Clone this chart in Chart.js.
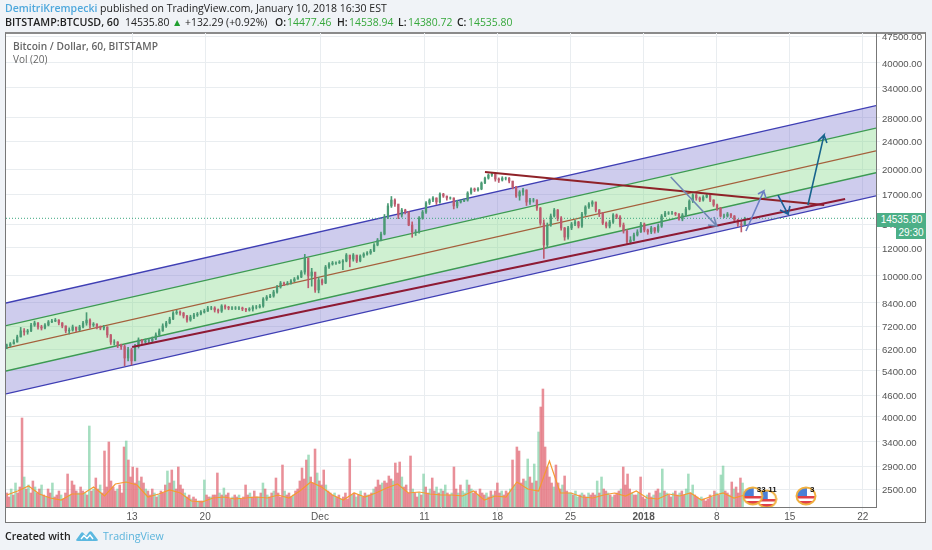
<!DOCTYPE html>
<html lang="en">
<head>
<meta charset="UTF-8">
<title>BTCUSD channel</title>
<script src="https://cdn.jsdelivr.net/npm/chart.js"></script>
<style>
    html, body { margin: 0; padding: 0; width: 932px; height: 550px; background: #f0f3f7; overflow: hidden; }
    body { font-family: "Open Sans", sans-serif; color: #222; }
    .txt { position: absolute; white-space: nowrap; line-height: 12px; }
    #frame { position: absolute; left: 5px; top: 32px; width: 919px; height: 488px; background: #fff; border: 1px solid #777; border-top: 2px solid #8b8b8b; }
    #chart { position: absolute; left: 0; top: 0; }
    .tag { position: absolute; color: #fff; background: #4caf87; font: 10px "Liberation Sans", sans-serif; text-align: center; }
    .green { color: #36a83c; }
</style>
</head>
<body>
<div id="frame"></div>
<canvas id="chart" width="932" height="550"></canvas>

<div class="txt" style="left:5px;top:2px;font-size:10.5px"><span style="color:#4fa8dc;font-weight:600">DemitriKrempecki</span> published on TradingView.com, January 10, 2018 16:30 EST</div>
<div class="txt" style="left:5px;top:16px;font-size:10.7px;font-weight:600">BITSTAMP:BTCUSD, 60</div>
<div class="txt" style="left:125px;top:16px;font-size:10.4px">14535.80 <span style="color:#1e9e2e">▲</span> +132.29 (+0.92%)</div>
<div class="txt" style="left:275px;top:16px;font-size:10.4px;font-weight:600">O:</div>
<div class="txt green" style="left:287px;top:16px;font-size:10.4px">14477.46</div>
<div class="txt" style="left:337px;top:16px;font-size:10.4px;font-weight:600">H:</div>
<div class="txt green" style="left:349px;top:16px;font-size:10.4px">14538.94</div>
<div class="txt" style="left:398px;top:16px;font-size:10.4px;font-weight:600">L:</div>
<div class="txt green" style="left:408px;top:16px;font-size:10.4px">14380.72</div>
<div class="txt" style="left:457px;top:16px;font-size:10.4px;font-weight:600">C:</div>
<div class="txt green" style="left:468px;top:16px;font-size:10.4px">14535.80</div>

<div class="txt" style="left:13px;top:40px;font-size:10.2px;font-weight:600;color:#666">Bitcoin / Dollar, 60, BITSTAMP</div>
<div class="txt" style="left:13px;top:53px;font-size:10px;color:#666">Vol (20)</div>

<div class="tag" style="left:877px;top:213px;width:49px;height:14px;line-height:14px">14535.80</div>
<div class="tag" style="left:896px;top:227px;width:30px;height:12px;line-height:12px">29:30</div>

<div class="txt" style="left:5px;top:530px;font-size:10.6px;font-weight:600">Created with</div>
<svg style="position:absolute;left:76px;top:530px" width="22" height="12" viewBox="0 0 22 12">
    <path d="M0 10 L5 3 Q6 1.5 7.5 3 L10 6 L13 2 Q14.5 0.5 16 2 L22 10 Q22 11 20 11 L2 11 Q0 11 0 10 Z" fill="#5bb8e0"/>
    <path d="M5 9 L8 5.5 L11 8.5 L14 5 L17 9" fill="none" stroke="#fff" stroke-width="1.4"/>
</svg>
<div class="txt" style="left:103px;top:530px;font-size:10.6px;color:#5bb4dc">TradingView</div>

<script>
// hourly-ish candles, 8h apart
const firstDay = -30.0, lastDay = 40.69;   // days counted from Dec 1
const xMin = -30.08, xMax = 53.26;

const priceClose = [
    6340,6420,6500,6720,6990,6940,6990,7260,7360,7170,
    7120,7260,7410,7450,7500,7360,7220,6990,7030,7170,
    7030,7170,7360,7500,7260,7310,7170,7120,7170,6810,
    6500,6500,6380,6310,5860,6180,5750,6310,6590,6500,
    6550,6550,6630,6810,6990,7220,7360,7550,7850,7900,
    7850,7700,7500,7650,7750,7800,7900,7950,8110,8110,
    8010,7950,8220,8160,8110,8110,8110,8110,8060,8010,
    8060,8160,8160,8220,8600,8710,8770,9000,9300,9540,
    9480,9540,9670,9790,9920,10250,11230,9990,10250,9120,
    9730,9540,10590,10800,10870,10870,10940,11010,11450,11150,
    11450,11010,11370,11520,11600,11750,12220,12620,13120,14660,
    15750,16370,15950,14850,15340,15140,13910,13300,13300,14560,
    15140,16060,16370,16590,16160,17020,16800,16590,16590,15750,
    16160,16260,16370,17130,17590,17470,17590,18290,18880,19260,
    19390,18760,18640,18880,18880,18520,17820,16800,17250,17470,
    16160,16370,16370,15540,14090,12220,13910,14750,15340,14560,
    13650,12870,13650,14000,14190,13820,14950,15650,15950,16160,
    15340,15040,14090,13820,14190,14850,14660,13910,13380,12460,
    12620,13040,13300,14000,13470,13300,13650,13380,13820,14750,
    15040,15040,15040,14950,14470,14850,15440,16260,16910,16590,
    16370,16690,16910,16370,15850,15540,14750,14750,14950,14750,
    14370,14000,13910,14536
];
const priceHigh = [
    6420,6480,6600,6800,7150,7100,7060,7340,7450,7380,
    7250,7330,7480,7530,7580,7520,7380,7220,7130,7260,
    7150,7250,7440,7870,7560,7380,7320,7220,7250,7180,
    6830,6600,6520,6420,6380,6280,6250,6400,6680,6620,
    6630,6640,6720,6900,7080,7320,7440,7640,7920,7990,
    7960,7880,7730,7740,7840,7880,7980,8050,8200,8200,
    8180,8060,8290,8280,8200,8190,8190,8190,8160,8100,
    8130,8240,8250,8300,8680,8800,8860,9100,9400,9640,
    9600,9640,9760,9890,10020,10350,11500,11000,10500,10200,
    9900,9800,10700,10900,10980,10960,11040,11120,11560,11420,
    11560,11400,11460,11620,11700,11880,12330,12750,13300,14900,
    16000,16750,16500,15900,15500,15420,15200,14200,13500,14700,
    15300,16200,16500,16750,16600,17150,17100,16800,16700,16600,
    16350,16400,16500,17280,17720,17700,17750,18420,19000,19400,
    19600,19400,18900,19050,19000,18950,18500,17900,17400,17650,
    17500,16550,16550,16400,15600,14400,14100,14950,15500,15400,
    14700,13700,13800,14150,14350,14250,15100,15780,16100,16300,
    16150,15400,15100,14200,14350,15000,14950,14800,14100,13500,
    12900,13200,13500,14150,14100,13550,13800,13700,14000,14900,
    15200,15180,15200,15120,15000,15000,15600,16400,17050,17050,
    16700,16850,17050,16950,16400,15950,15600,14950,15100,15000,
    14800,14450,14300,14639
];
const priceLow = [
    6230,6300,6420,6500,6720,6800,6840,6950,7200,7070,
    7030,7080,7220,7370,7420,7270,7130,6900,6850,6980,
    6950,6990,7130,7250,7120,7190,7080,7040,7030,6700,
    6400,6380,6270,6200,5570,5750,5600,5800,6250,6400,
    6450,6450,6520,6600,6760,6970,7150,7320,7520,7780,
    7740,7600,7400,7440,7570,7680,7750,7850,7930,8020,
    7900,7850,7880,8050,8020,8030,8030,8030,7970,7920,
    7950,7950,8060,8110,8150,8520,8680,8700,8940,9230,
    9380,9420,9470,9620,9780,9880,10100,9250,9350,8980,
    8950,9430,9500,10500,10720,10770,10840,10400,10950,10600,
    11000,10900,10950,11270,11430,11500,11700,12150,12550,13050,
    14500,15600,15700,14500,14650,14950,13850,12850,13000,13200,
    14450,15000,15900,16200,15900,16050,16650,16350,16450,15450,
    15550,16050,16200,16250,17000,17300,17350,17500,18200,18750,
    19100,18500,18350,18520,18650,18300,17600,16650,16350,16900,
    15800,15900,16150,15300,13900,11200,12000,13800,14650,14300,
    13450,12600,12700,13500,13850,13650,13700,14800,15500,15700,
    15150,14700,13950,13650,13650,14050,14500,13750,13200,12250,
    12300,12550,12950,13250,13300,13100,13150,13200,13250,13700,
    14700,14900,14900,14800,14350,14300,14750,15350,16100,16350,
    16200,16250,16600,16200,15700,15300,14650,14600,14650,14600,
    14250,13780,13300,14380
];

// volume, 5h bars
const volume = [
    140,100,180,120,240,140,200,890,300,180,
    220,140,260,200,140,180,220,120,100,180,
    140,240,100,120,160,120,80,140,330,120,
    260,220,160,140,200,160,140,120,810,160,
    180,290,180,220,140,560,200,650,260,200,
    160,180,220,140,600,660,470,300,400,240,
    390,260,300,240,180,160,120,180,140,100,
    120,160,140,220,360,240,370,260,180,400,
    220,180,140,100,120,80,100,80,60,60,
    60,270,120,100,100,120,120,340,140,120,
    190,120,140,80,100,120,100,120,80,100,
    220,120,140,100,160,100,100,140,240,180,
    120,100,140,160,290,140,100,420,160,120,
    140,100,120,160,180,260,390,280,470,520,
    300,240,580,340,260,220,370,220,160,140,
    120,140,100,120,80,100,140,80,480,120,
    140,100,120,160,100,140,120,120,140,180,
    200,270,220,240,260,240,310,280,260,440,
    340,450,300,200,220,140,510,180,140,100,
    140,120,330,200,140,180,290,160,200,140,
    180,160,220,140,120,140,400,180,140,220,
    160,140,270,220,180,140,160,120,180,140,
    120,140,100,160,120,160,240,140,160,120,
    160,140,180,470,220,600,560,240,280,260,
    480,300,240,430,260,750,1000,1180,600,400,
    300,240,200,420,240,180,220,310,160,140,
    140,120,160,100,120,140,120,100,140,120,
    140,120,260,140,300,180,160,140,120,100,
    120,140,160,180,400,220,330,180,140,120,
    120,140,300,100,80,120,140,100,120,160,
    180,140,380,160,140,120,100,140,160,120,
    140,160,120,180,330,140,220,120,100,80,
    100,80,60,80,120,100,160,140,120,320,
    410,160,140,120,250,180,200,140,290,240
];
const volumeSide = (
    "rrgrgrrrgr" + "grrgrrgrgr" + "rgrrrgrrrg" + "rrrgrrgrgr" +
    "grrgrrrrrr" + "rgrrrgrrrr" + "rgrrgrrrgr" + "grrrgrrgrr" +
    "rrgrrgrrgr" + "rgrrgrrrgr" + "grrrgrrgrr" + "rrgrrrgrgr" +
    "grrgrrrrgr" + "rrgrrrrrrg" + "rrrgrrrgrr" + "rgrrgrrrrg" +
    "rgrgrrgrrg" + "rrrgrrrrgr" + "rrgrrrrgrr" + "grgrrgrrgr" +
    "grgrrgrrgr" + "gggrgrrgrr" + "rgrrgrrrgr" + "rrgrgrrrrg" +
    "grrgrgrrrr" + "rrgrrrgrrg" + "grggrgrrgr" + "rrgrgrrgrg" +
    "rrrgrrrrgr" + "rgrrrgrrgr" + "rggrgrrgrr" + "grrggrgrrg" +
    "grrrrgrgrg" + "grrgrgrrrg"
).split("");
const volumeMA = [
    120,160,210,130,90,70,130,130,200,110,
    230,250,220,100,130,170,140,60,50,90,
    100,80,90,100,90,120,90,160,250,200,
    120,70,140,100,140,190,230,140,150,130,
    120,120,110,160,70,110,100,250,180,160,
    460,140,140,100,90,120,140,110,160,90,
    80,130,110,140,70,110,140,90,120
];

// channel and trend lines, two ends each
const channelDays = [xMin, xMax];
const blueTop = [8380, 30250];
const greenTop = [7230, 26140];
const brownMid = [6250, 22550];
const greenLow = [5385, 19550];
const blueLow = [4640, 16830];
const supportDays = [-18.0, 50.3];
const supportPrices = [6294, 16480];
const resistDays = [15.8, 48.3];
const resistPrices = [19640, 15850];
const lastPrice = 14535.80;

// arrows: tail, tip, head end, tip, head end
const arrow1Days = [33.6, 38.0, 37.16, 38.0, 37.74];
const arrow1Prices = [19010, 13820, 13910, 13820, 14660];
const arrow2Days = [40.8, 42.5, 41.95, 42.5, 42.72];
const arrow2Prices = [13380, 17360, 17020, 17360, 16580];
const arrow3Days = [43.87, 44.83, 44.06, 44.83, 45.02];
const arrow3Prices = [16910, 14940, 15340, 14940, 15740];
const arrow4Days = [46.74, 48.28, 47.7, 48.28, 48.56];
const arrow4Prices = [15850, 24975, 24030, 24975, 23710];

const eventDays = [42.79, 41.45, 46.55];
const eventLevels = [80, 110, 110];
const eventLabels = ["11", "33", "3"];

const xTickDays = [-18, -11, 0, 10, 17, 24, 31, 38, 45, 52];
const xTickLabels = ["13", "20", "Dec", "11", "18", "25", "2018", "8", "15", "22"];
const yTicks = [47500, 40000, 34000, 28000, 24000, 20000, 17000, 14000, 12000, 10000, 8400, 7200, 6200, 5400, 4600, 4000, 3400, 2900, 2500];

function pairs(days, values) {
    return days.map((d, i) => ({ x: d, y: values[i] }));
}

const candleStep = (lastDay - firstDay) / (priceClose.length - 1);
const candleDay = priceClose.map((c, i) => firstDay + i * candleStep);
const candleOpen = priceClose.map((c, i) => i ? priceClose[i - 1] : c);
const volStep = (lastDay - firstDay) / volume.length;
const volDay = volume.map((v, i) => firstDay + i * volStep);
const maDay = volumeMA.map((v, i) => firstDay + i * volStep * 5);

function candleColor(ctx) {
    const i = ctx.dataIndex;
    return priceClose[i] >= candleOpen[i] ? "#4a9a74" : "#bd5a6e";
}

// little flag marker for the economic events
function makeFlag() {
    const c = document.createElement("canvas");
    c.width = 22; c.height = 20;
    const g = c.getContext("2d");
    g.save();
    g.beginPath();
    g.ellipse(11, 10, 9.5, 8.5, 0, 0, Math.PI * 2);
    g.clip();
    g.fillStyle = "#fff";
    g.fillRect(0, 0, 22, 20);
    g.fillStyle = "#e04048";
    g.fillRect(0, 10, 22, 2.5);
    g.fillRect(0, 15, 22, 3);
    g.fillStyle = "#4a80d8";
    g.fillRect(0, 2, 12, 8);
    g.restore();
    g.strokeStyle = "#f0b040";
    g.lineWidth = 2;
    g.beginPath();
    g.ellipse(11, 10, 9.5, 8.5, 0, 0, Math.PI * 2);
    g.stroke();
    return c;
}

function line(data, color, width, order, extra) {
    return Object.assign({
        type: "line", data, borderColor: color, borderWidth: width, pointRadius: 0,
        tension: 0, fill: false, order, yAxisID: "y", clip: true
    }, extra || {});
}

const eventText = {
    id: "eventText",
    afterDraw(chart) {
        const g = chart.ctx;
        g.save();
        g.font = "bold 8px 'Liberation Sans', sans-serif";
        g.fillStyle = "#111";
        g.textAlign = "left";
        g.textBaseline = "middle";
        eventDays.forEach((d, i) => {
            const x = chart.scales.x.getPixelForValue(d);
            const y = chart.scales.yVol.getPixelForValue(eventLevels[i]);
            g.fillText(eventLabels[i], x + (i === 0 ? 1.5 : 4), y - (i === 0 ? 9 : 6));
        });
        g.restore();
    }
};

new Chart(document.getElementById("chart"), {
    data: {
        datasets: [
            // 0-4 channel, fills go to the next boundary
            line(pairs(channelDays, blueTop), "#3f3fb4", 1.3, 30, { fill: { target: 1 }, backgroundColor: "rgba(120,115,205,0.36)" }),
            line(pairs(channelDays, greenTop), "#3c9a52", 1.3, 29, { fill: { target: 3 }, backgroundColor: "rgba(130,215,135,0.38)" }),
            line(pairs(channelDays, brownMid), "#a5603c", 1.2, 28),
            line(pairs(channelDays, greenLow), "#3c9a52", 1.3, 27, { fill: { target: 4 }, backgroundColor: "rgba(120,115,205,0.36)" }),
            line(pairs(channelDays, blueLow), "#3f3fb4", 1.3, 26),
            {
                type: "bar", label: "wick", yAxisID: "y", order: 12, grouped: false, barThickness: 1,
                data: candleDay.map((d, i) => ({ x: d, y: [priceLow[i], priceHigh[i]] })),
                backgroundColor: candleColor
            },
            {
                type: "bar", label: "body", yAxisID: "y", order: 11, grouped: false, barThickness: 1.6,
                data: candleDay.map((d, i) => ({ x: d, y: [candleOpen[i], priceClose[i]] })),
                backgroundColor: candleColor
            },
            {
                type: "bar", label: "volume", yAxisID: "yVol", order: 20, grouped: false, barThickness: 1.9,
                data: pairs(volDay, volume),
                backgroundColor: ctx => volumeSide[ctx.dataIndex] === "g" ? "rgba(105,200,150,0.6)" : "rgba(226,105,118,0.75)"
            },
            line(pairs(maDay, volumeMA), "#f59a30", 1.2, 15, { yAxisID: "yVol" }),
            line(pairs(channelDays, [lastPrice, lastPrice]), "#3aa77e", 1, 14, { borderDash: [1, 2] }),
            line(pairs(resistDays, resistPrices), "#8f2228", 1.8, 6),
            line(pairs(supportDays, supportPrices), "#8e1a34", 2.2, 5),
            line(pairs(arrow1Days, arrow1Prices), "#6f88b4", 1.6, 4),
            line(pairs(arrow2Days, arrow2Prices), "#6c80c4", 1.6, 3),
            line(pairs(arrow3Days, arrow3Prices), "#1c5f96", 1.6, 2),
            line(pairs(arrow4Days, arrow4Prices), "#17648c", 1.6, 1),
            {
                type: "scatter", yAxisID: "yVol", order: 0,
                data: pairs(eventDays, eventLevels),
                pointStyle: makeFlag(), pointRadius: 10
            }
        ]
    },
    options: {
        responsive: false,
        animation: false,
        devicePixelRatio: 1,
        layout: { autoPadding: false, padding: { left: 6, top: 33, right: 6, bottom: 28 } },
        plugins: { legend: { display: false }, tooltip: { enabled: false } },
        scales: {
            x: {
                type: "linear",
                offset: false,
                min: xMin,
                max: xMax,
                afterBuildTicks: s => { s.ticks = xTickDays.map(v => ({ value: v })); },
                afterFit: s => { s.height = 15; },
                border: { color: "#777" },
                grid: { color: "#e9edf0", tickLength: 4, offset: false },
                ticks: {
                    autoSkip: false, maxRotation: 0, padding: 0, color: "#555",
                    font: ctx => ({ family: "'Liberation Sans', sans-serif", size: 10, weight: ctx.tick && ctx.tick.value === 31 ? "bold" : "normal" }),
                    callback: v => xTickLabels[xTickDays.indexOf(v)]
                }
            },
            y: {
                type: "logarithmic",
                position: "right",
                min: 2224,
                max: 48500,
                afterBuildTicks: s => { s.ticks = yTicks.map(v => ({ value: v })); },
                afterFit: s => { s.width = 50; },
                border: { color: "#777" },
                grid: { color: "#e9edf0", tickLength: 4 },
                ticks: {
                    autoSkip: false, padding: 2, color: "#555", labelOffset: 1.5,
                    font: { family: "'Liberation Sans', sans-serif", size: 9.6 },
                    callback: v => v.toFixed(2)
                }
            },
            yVol: { type: "linear", display: false, min: 0, max: 4740 }
        }
    },
    plugins: [eventText]
});
</script>
</body>
</html>
